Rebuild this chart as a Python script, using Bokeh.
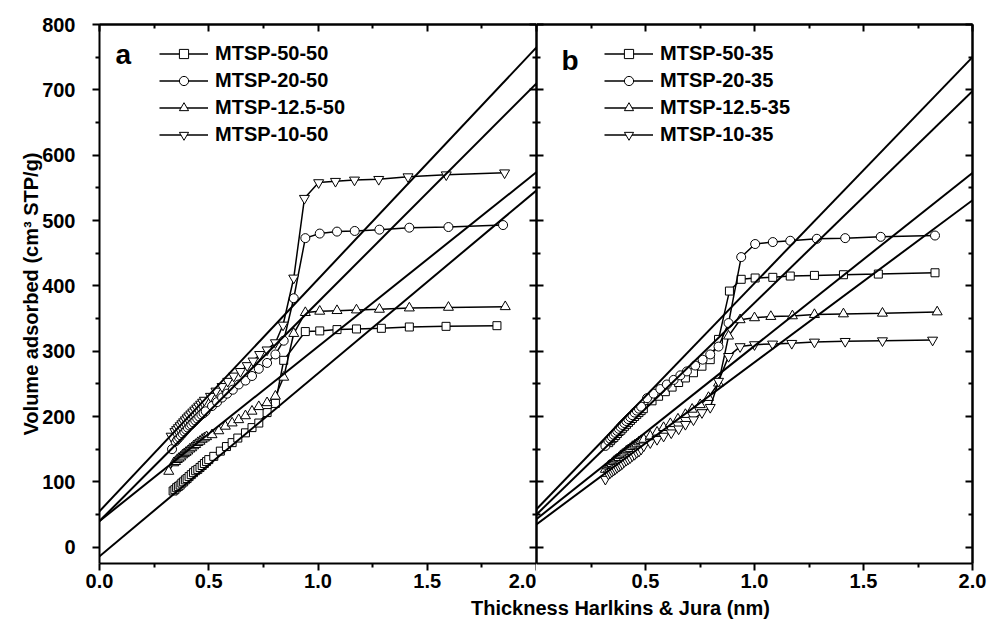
from bokeh.plotting import figure
from bokeh.models import (Range1d, LinearAxis, FixedTicker, NumeralTickFormatter,
                          Slope, Legend, LegendItem, Label)
from bokeh.layouts import column, row
from bokeh.embed import file_html
from bokeh.resources import INLINE

FONT = "Liberation Sans"

# ---------------- Panel a data (MTSP-xx-50) ----------------
a_names = ["MTSP-50-50", "MTSP-20-50", "MTSP-12.5-50", "MTSP-10-50"]
a_x_50 = [0.337, 0.345, 0.353, 0.361, 0.369, 0.377, 0.385, 0.393, 0.401, 0.41, 0.42, 0.43, 0.44, 0.45,
          0.46, 0.47, 0.48, 0.49, 0.5, 0.523, 0.553, 0.581, 0.607, 0.633, 0.668, 0.698, 0.729, 0.767,
          0.805, 0.843, 0.942, 1.008, 1.087, 1.176, 1.29, 1.418, 1.586, 1.819]
a_y_50 = [86, 88, 91, 93, 95, 98, 100, 103, 105, 108, 111, 114, 117, 119,
          122, 125, 128, 131, 134, 139, 147, 154, 160, 167, 175, 183, 190, 206,
          220, 286, 330, 331, 333, 334, 335, 337, 338, 339]
a_x_20 = [0.332, 0.348, 0.356, 0.364, 0.372, 0.38, 0.388, 0.396, 0.404, 0.412, 0.42, 0.429, 0.438, 0.447,
          0.456, 0.466, 0.476, 0.486, 0.515, 0.538, 0.561, 0.584, 0.61, 0.637, 0.668, 0.698, 0.729,
          0.767, 0.805, 0.843, 0.889, 0.942, 1.008, 1.087, 1.168, 1.281, 1.418, 1.597, 1.847]
a_y_20 = [150, 162, 165, 168, 171, 174, 177, 180, 183, 186, 188, 191, 194, 197,
          200, 203, 205, 208, 216, 222, 229, 235, 241, 249, 255, 262, 273,
          282, 295, 316, 381, 473, 480, 483, 484, 486, 489, 490, 493]
a_x_125 = [0.317, 0.34, 0.348, 0.356, 0.364, 0.372, 0.38, 0.388, 0.396, 0.404, 0.413, 0.422, 0.431, 0.44,
           0.45, 0.46, 0.47, 0.48, 0.49, 0.515, 0.546, 0.576, 0.607, 0.637, 0.668, 0.698, 0.729, 0.767,
           0.805, 0.843, 0.889, 0.942, 1.008, 1.087, 1.176, 1.281, 1.418, 1.597, 1.857]
a_y_125 = [116, 129, 131, 134, 136, 138, 141, 143, 145, 147, 150, 152, 155, 157,
           160, 162, 165, 167, 169, 172, 178, 185, 190, 195, 201, 208, 215, 221,
           231, 260, 327, 359, 361, 362, 363, 364, 366, 367, 368]
a_x_10 = [0.328, 0.345, 0.353, 0.361, 0.369, 0.377, 0.385, 0.393, 0.401, 0.409, 0.418, 0.427, 0.436, 0.445,
          0.454, 0.463, 0.472, 0.48, 0.508, 0.533, 0.561, 0.587, 0.614, 0.645, 0.676, 0.703, 0.733,
          0.767, 0.805, 0.84, 0.889, 0.938, 1.003, 1.08, 1.167, 1.278, 1.412, 1.587, 1.854]
a_y_10 = [170, 177, 180, 183, 186, 189, 192, 195, 198, 201, 204, 207, 210, 213,
          216, 219, 222, 225, 231, 239, 246, 254, 262, 269, 278, 285, 295,
          302, 313, 340, 412, 534, 558, 560, 562, 563, 567, 570, 573]
# t-plot linear fits (slope, intercept)
a_fit_slope = [280, 335, 267, 355]
a_fit_intercept = [-14, 40, 40, 55]

# ---------------- Panel b data (MTSP-xx-35) ----------------
b_names = ["MTSP-50-35", "MTSP-20-35", "MTSP-12.5-35", "MTSP-10-35"]
b_x_50 = [0.331, 0.339, 0.347, 0.355, 0.363, 0.371, 0.379, 0.387, 0.395, 0.404, 0.413, 0.422, 0.431, 0.44,
          0.45, 0.46, 0.47, 0.48, 0.49, 0.53, 0.56, 0.591, 0.622, 0.652, 0.683, 0.72, 0.759, 0.797,
          0.835, 0.885, 0.939, 1.003, 1.084, 1.164, 1.275, 1.408, 1.568, 1.828]
b_y_50 = [160, 163, 166, 168, 171, 174, 177, 179, 182, 185, 188, 191, 194, 197,
          200, 203, 206, 209, 212, 224, 231, 238, 245, 252, 259, 267, 277, 287,
          318, 392, 410, 412, 413, 415, 416, 417, 418, 420]
b_x_20 = [0.316, 0.33, 0.338, 0.346, 0.354, 0.362, 0.37, 0.378, 0.386, 0.394, 0.403, 0.412, 0.421, 0.43,
          0.44, 0.45, 0.46, 0.47, 0.48, 0.507, 0.537, 0.568, 0.598, 0.629, 0.66, 0.69, 0.728, 0.762,
          0.797, 0.835, 0.881, 0.939, 1.003, 1.084, 1.164, 1.286, 1.416, 1.579, 1.828]
b_y_20 = [155, 163, 166, 169, 172, 175, 178, 181, 184, 187, 190, 193, 196, 199,
          202, 206, 209, 212, 215, 228, 235, 242, 249, 256, 263, 269, 278, 287,
          295, 307, 343, 444, 464, 467, 469, 472, 473, 475, 477]
b_x_125 = [0.316, 0.33, 0.338, 0.346, 0.354, 0.362, 0.37, 0.378, 0.386, 0.394, 0.403, 0.412, 0.421, 0.43,
           0.44, 0.45, 0.46, 0.47, 0.48, 0.492, 0.522, 0.553, 0.583, 0.614, 0.649, 0.683, 0.714, 0.751,
           0.789, 0.835, 0.881, 0.934, 1.0, 1.075, 1.174, 1.275, 1.408, 1.587, 1.838]
b_y_125 = [119, 124, 126, 128, 131, 133, 135, 137, 140, 142, 144, 147, 149, 151,
           154, 156, 158, 161, 163, 165, 170, 176, 183, 189, 196, 203, 211, 218,
           229, 251, 323, 348, 351, 353, 354, 356, 357, 358, 360]
b_x_10 = [0.316, 0.33, 0.338, 0.346, 0.354, 0.362, 0.37, 0.378, 0.386, 0.394, 0.403, 0.412, 0.421, 0.43,
          0.44, 0.45, 0.46, 0.47, 0.48, 0.492, 0.522, 0.553, 0.583, 0.618, 0.652, 0.683, 0.72, 0.759,
          0.797, 0.835, 0.881, 0.934, 1.0, 1.083, 1.171, 1.275, 1.416, 1.587, 1.817]
b_y_10 = [104, 112, 114, 116, 118, 120, 122, 124, 126, 128, 131, 133, 135, 137,
          140, 142, 145, 147, 150, 155, 160, 165, 170, 175, 181, 188, 195, 206,
          214, 254, 292, 307, 310, 311, 312, 314, 315, 316, 317]
b_fit_slope = [324, 346, 265, 248]
b_fit_intercept = [50, 58, 43, 35]

markers = ["square", "circle", "triangle", "inverted_triangle"]
marker_sizes = [8, 9, 10, 10]

x_major_a = [0.0, 0.5, 1.0, 1.5, 2.0]
x_major_b = [0.5, 1.0, 1.5, 2.0]
x_minor = [0.25, 0.75, 1.25, 1.75]
y_major = [0, 100, 200, 300, 400, 500, 600, 700, 800]
y_minor = [-50, 50, 150, 250, 350, 450, 550, 650, 750]

FRAME_W_A = 437
FRAME_W_B = 436
FRAME_H = 539
TOP = 24
BOTTOM = 34
LEFT_A = 99
RIGHT_B = 18


def style_labeled_axis(ax, ticks, minor, fmt):
    ax.ticker = FixedTicker(ticks=ticks, minor_ticks=minor)
    ax.formatter = NumeralTickFormatter(format=fmt)
    ax.axis_line_width = 2
    ax.axis_line_color = "black"
    ax.major_tick_line_width = 2
    ax.minor_tick_line_width = 2
    ax.major_tick_line_color = "black"
    ax.minor_tick_line_color = "black"
    ax.major_tick_out = 7
    ax.major_tick_in = 0
    ax.minor_tick_out = 4
    ax.minor_tick_in = 0
    ax.major_label_text_font = FONT
    ax.major_label_text_font_style = "bold"
    ax.major_label_text_font_size = "20px"
    ax.major_label_text_color = "black"


def add_tick_only_axis(p, side, positions, length):
    # an unlabeled mirror axis: its only ticks are inward "minor" ticks
    ax = LinearAxis(ticker=FixedTicker(ticks=[], minor_ticks=positions))
    ax.axis_line_width = 2
    ax.axis_line_color = "black"
    ax.minor_tick_line_width = 2
    ax.minor_tick_line_color = "black"
    ax.minor_tick_in = length
    ax.minor_tick_out = 0
    ax.major_tick_in = 0
    ax.major_tick_out = 0
    ax.major_label_standoff = 0
    p.add_layout(ax, side)


def build_panel(xs, ys, names, slopes, intercepts, letter, letter_x, letter_base,
                legend_x, is_a):
    fw = FRAME_W_A if is_a else FRAME_W_B
    left = LEFT_A if is_a else 0
    right = 0 if is_a else RIGHT_B
    p = figure(width=left + fw + right, height=TOP + FRAME_H + BOTTOM,
               x_range=Range1d(0, 2), y_range=Range1d(-25, 800),
               output_backend="svg", toolbar_location=None,
               y_axis_location="left" if is_a else None,
               min_border_left=left, min_border_right=right,
               min_border_top=TOP, min_border_bottom=BOTTOM)
    p.grid.visible = False
    p.outline_line_color = None
    p.background_fill_color = "white"
    p.border_fill_color = "white"

    style_labeled_axis(p.xaxis[0], x_major_a if is_a else x_major_b, x_minor, "0.0")
    p.xaxis[0].major_label_standoff = 3
    if is_a:
        ya = p.yaxis[0]
        style_labeled_axis(ya, y_major, y_minor, "0")
        ya.major_label_standoff = 17
        ya.axis_label = "Volume adsorbed (cm\u00b3 STP/g)"
        ya.axis_label_text_font = FONT
        ya.axis_label_text_font_style = "bold"
        ya.axis_label_text_font_size = "20px"
        ya.axis_label_text_color = "black"
        ya.axis_label_standoff = -3
    else:
        add_tick_only_axis(p, "left", y_major, 7)
        add_tick_only_axis(p, "left", y_minor, 4)
    add_tick_only_axis(p, "above", x_major_a, 7)
    add_tick_only_axis(p, "above", x_minor, 4)
    add_tick_only_axis(p, "right", y_major, 7)
    add_tick_only_axis(p, "right", y_minor, 4)

    # t-plot linear fits
    for m, c in zip(slopes, intercepts):
        p.add_layout(Slope(gradient=m, y_intercept=c, line_color="black", line_width=2))

    items = []
    for x, y, name, mk, sz in zip(xs, ys, names, markers, marker_sizes):
        lr = p.line(x, y, line_color="black", line_width=1.5)
        sr = p.scatter(x, y, marker=mk, size=sz, fill_color="white",
                       line_color="black", line_width=1)
        items.append(LegendItem(label=name, renderers=[lr, sr]))

    legend = Legend(items=items, location=(legend_x, FRAME_H - 19 - 103),
                    label_text_font=FONT, label_text_font_style="bold",
                    label_text_font_size="20px", label_text_color="black",
                    glyph_width=49, glyph_height=23, label_height=23,
                    label_standoff=7, spacing=4, padding=0, margin=0,
                    border_line_color=None, background_fill_alpha=0)
    p.add_layout(legend, "center")

    p.add_layout(Label(x=letter_x, y=FRAME_H - letter_base, x_units="screen", y_units="screen",
                       text=letter, text_font=FONT, text_font_style="bold",
                       text_font_size="28px", text_color="black",
                       text_baseline="alphabetic", text_align="left"))
    return p


pa = build_panel([a_x_50, a_x_20, a_x_125, a_x_10], [a_y_50, a_y_20, a_y_125, a_y_10],
                 a_names, a_fit_slope, a_fit_intercept, "a", 16, 30, 60, True)
pb = build_panel([b_x_50, b_x_20, b_x_125, b_x_10], [b_y_50, b_y_20, b_y_125, b_y_10],
                 b_names, b_fit_slope, b_fit_intercept, "b", 25, 36, 68, False)

total_w = LEFT_A + FRAME_W_A + FRAME_W_B + RIGHT_B
LABEL_H = 625 - (TOP + FRAME_H + BOTTOM)
plab = figure(width=total_w, height=LABEL_H, x_range=Range1d(0, 1), y_range=Range1d(0, 1),
              output_backend="svg", toolbar_location=None, x_axis_type=None, y_axis_type=None,
              min_border=0)
plab.grid.visible = False
plab.outline_line_color = None
plab.add_layout(Label(x=620, y=LABEL_H - 10, x_units="screen", y_units="screen",
                      text="Thickness Harlkins & Jura (nm)", text_font=FONT,
                      text_font_style="bold", text_font_size="20px", text_color="black",
                      text_align="center", text_baseline="middle"))

layout = column(row(pa, pb), plab)
open("out.html", "w").write(file_html(layout, INLINE))
